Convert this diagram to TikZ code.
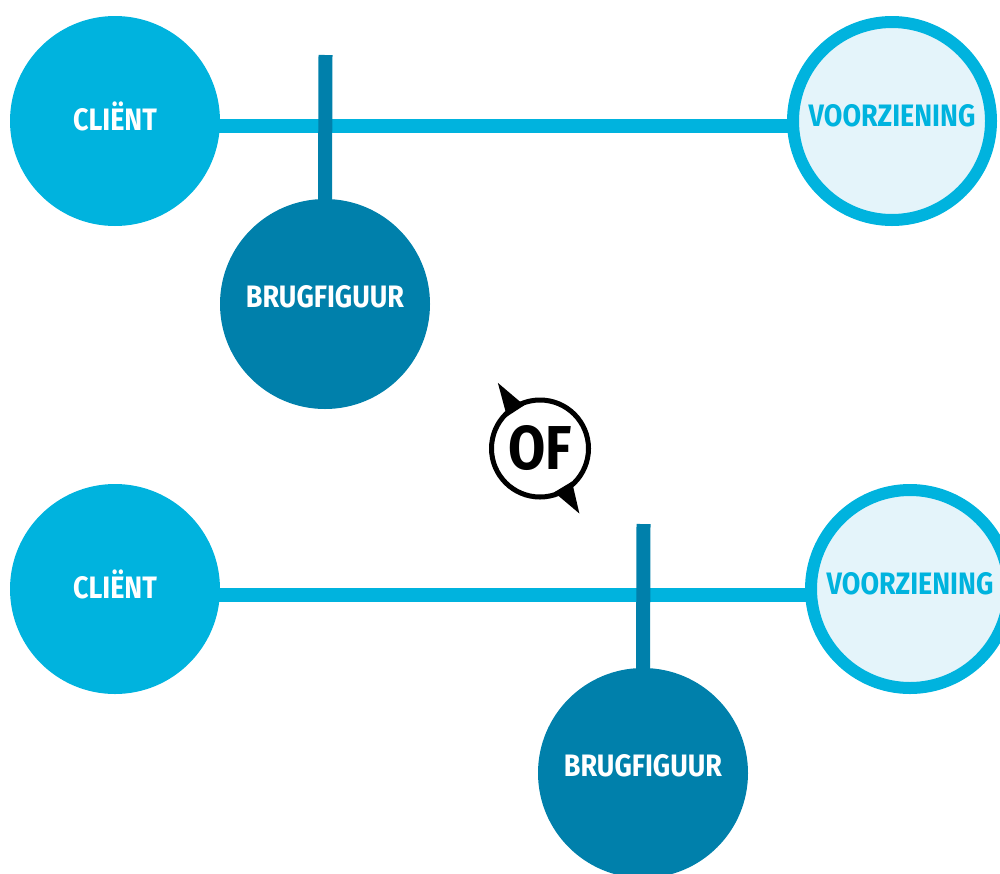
\documentclass[tikz,border=0pt]{standalone}
\usepackage{fontspec}
\setmainfont{Fira Sans}[FakeStretch=0.87]
\definecolor{cyanA}{HTML}{00B3DE}
\definecolor{darkA}{HTML}{0080AB}
\definecolor{lightA}{HTML}{E4F4FA}
\begin{document}
\begin{tikzpicture}[x=0.5pt,y=-0.5pt,
  clientc/.style={circle,fill=cyanA,minimum size=105pt,inner sep=0pt,outer sep=0pt},
  voorc/.style={circle,fill=lightA,draw=cyanA,line width=6pt,minimum size=99pt,inner sep=0pt},
  brugc/.style={circle,fill=darkA,minimum size=105pt,inner sep=0pt,outer sep=0pt},
  hline/.style={cyanA,line width=7pt},
  vline/.style={darkA,line width=7pt},
  lblw/.style={text=white,font=\bfseries\fontsize{15.5}{18}\selectfont,inner sep=0pt},
  lblc/.style={text=cyanA,font=\bfseries\fontsize{15.5}{18}\selectfont,inner sep=0pt},
  ofc/.style={circle,draw=black,line width=2.5pt,fill=white,minimum size=48.5pt,inner sep=0pt}
]
\useasboundingbox (0,0) rectangle (1000,873);
% top
\node[clientc] (c1) at (115,121) {};
\node[voorc] (v1) at (892,121) {};
\node[brugc] (b1) at (325,304) {};
\coordinate (t1) at (325.5,55);
\draw[hline] ([yshift=-2.5pt]c1.center) -- ([yshift=-2.5pt,xshift=3pt]v1.west);
\draw[vline] (t1) -- ([yshift=-3pt]b1.north);
\node[lblw] at ([yshift=2.5pt]c1.center) {CLIËNT};
\node[lblc] at ([yshift=2.5pt]v1.center) {VOORZIENING};
\node[lblw] at ([yshift=3.5pt]b1.center) {BRUGFIGUUR};
% bottom
\node[clientc] (c2) at (115,589) {};
\node[voorc] (v2) at (910,589) {};
\node[brugc] (b2) at (643,773) {};
\coordinate (t2) at (643.5,524);
\draw[hline] ([yshift=-3pt]c2.center) -- ([yshift=-3pt,xshift=3pt]v2.west);
\draw[vline] (t2) -- ([yshift=-3pt]b2.north);
\node[lblw] at ([yshift=2.5pt]c2.center) {CLIËNT};
\node[lblc] at ([yshift=2.5pt]v2.center) {VOORZIENING};
\node[lblw] at ([yshift=3.5pt]b2.center) {BRUGFIGUUR};
% OF
\node[ofc] (of) at (540,448.5) {};
\fill[black] ([shift={(110:23pt)}]of.center) -- ([shift={(122.7:39pt)}]of.center) -- ([shift={(136:23pt)}]of.center) -- cycle;
\fill[black] ([shift={(-46:23pt)}]of.center) -- ([shift={(-58.8:38pt)}]of.center) -- ([shift={(-72:23pt)}]of.center) -- cycle;
\node[font=\bfseries\fontsize{31}{35}\selectfont,inner sep=0pt] at (of.center) {OF};
\end{tikzpicture}
\end{document}
